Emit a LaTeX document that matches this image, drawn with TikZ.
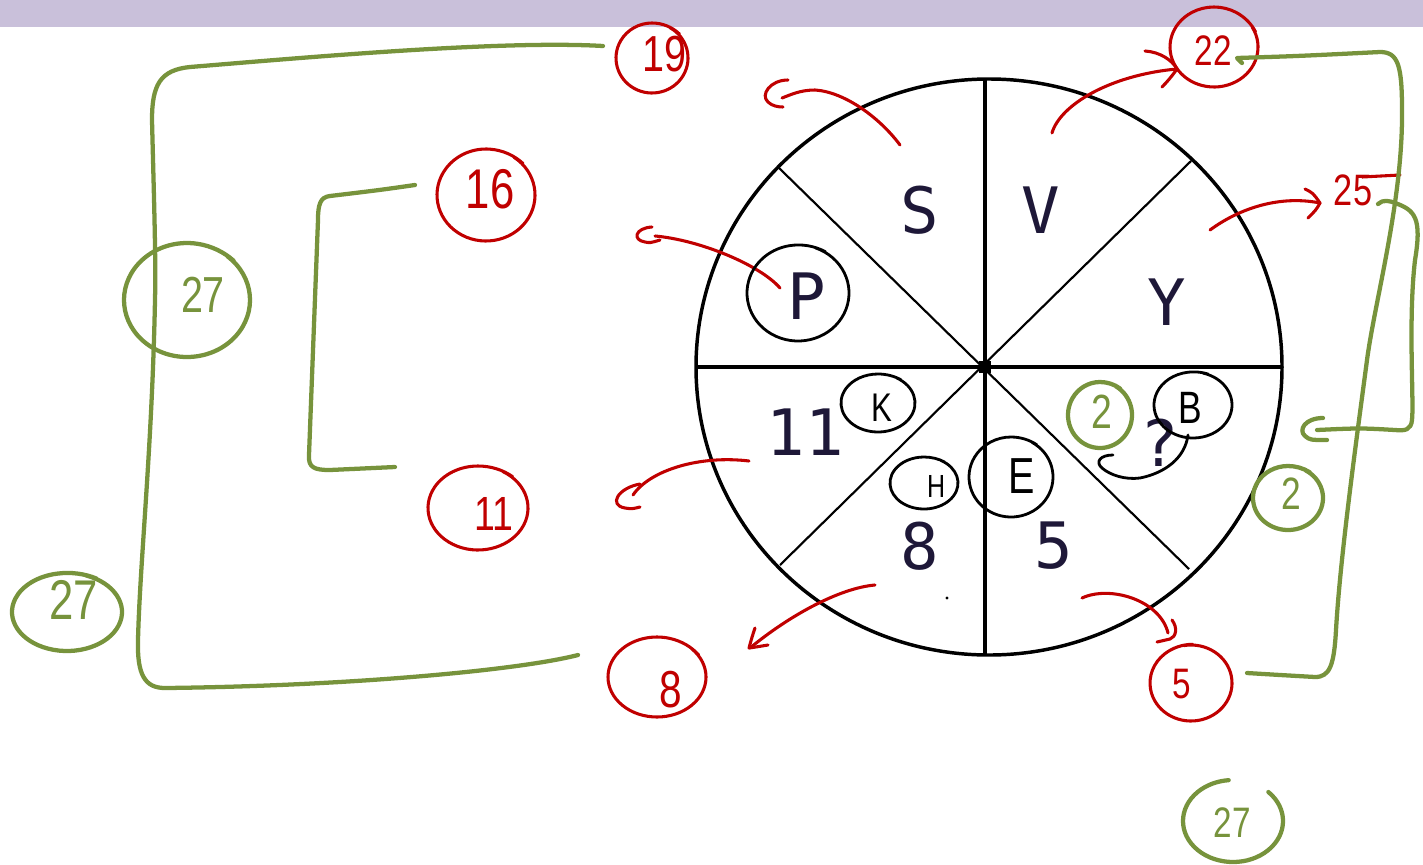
\documentclass[tikz,border=0pt]{standalone}
\usepackage{fontspec}
\setmainfont{Liberation Sans}
\newfontfamily\wheelfont{DejaVu Sans Mono}

\definecolor{barpurple}{HTML}{C9C0DA}
\definecolor{penred}{HTML}{C00000}
\definecolor{pengreen}{HTML}{77933C}
\definecolor{letterink}{HTML}{1E1838}

\tikzset{every picture/.style={line width=0.75pt}}
\tikzset{
	redpen/.style={draw=penred, line width=2.3pt, line cap=round, line join=round},
	greenpen/.style={draw=pengreen, line width=3.2pt, line cap=round, line join=round},
	blackpen/.style={draw=black, line width=2.1pt, line cap=round, line join=round},
	wheelletter/.style={font=\wheelfont\fontsize{48}{50}\selectfont, text=letterink, inner sep=0.75pt},
	redlabel/.style={text=penred, inner sep=0.75pt, xscale=0.78},
	greenlabel/.style={text=pengreen, inner sep=0.75pt, xscale=0.78},
	blacklabel/.style={text=black, inner sep=0.75pt, xscale=0.78}
}

\begin{document}
\begin{tikzpicture}[x=0.75pt,y=0.75pt,yscale=-1,xscale=1]
	\useasboundingbox (0,0) rectangle (1423,864);
	
	%Top bar
	\fill [barpurple] (0,0) rectangle (1423,27);
	
	%Wheel
	\draw [line width=2.6pt] (989,367) ellipse [x radius=293, y radius=288];
	\draw [line width=3.6pt] (985,78) -- (985,656);
	\draw [line width=3pt] (695,367) -- (1283,367);
	\draw [line width=1.6pt] (778,167) -- (1189,569);
	\draw [line width=1.6pt] (1191,161) -- (780,565);
	\fill (979,361) rectangle (991,373);
	\fill (947,598) circle (1.6);
	
	% Wheel letters
	\node [wheelletter] (lS) at (920,210) {S};
	\node [wheelletter] (lV) at (1041,210) {V};
	\node [wheelletter] (lP) at (807,296) {P};
	\node [wheelletter] (lY) at (1167,302) {Y};
	\node [wheelletter] (l11) at (805,432) {11};
	\node [wheelletter] (lQ) at (1160,443) {?};
	\node [wheelletter] (l8) at (920,546) {8};
	\node [wheelletter] (l5) at (1054,546) {5};
	
	%Red arrows
	\draw [redpen] (900,145) .. controls (880,118) and (845,92) .. (815,90) .. controls (800,90) and (790,95) .. (782,98) ;
	\draw [redpen] (788,80) .. controls (770,80) and (760,95) .. (768,102) .. controls (772,106) and (778,107) .. (783,107) ;
	\draw [redpen] (1052,133) .. controls (1060,105) and (1110,75) .. (1177,69) ;
	\draw [redpen] (1145,51) .. controls (1160,52) and (1172,60) .. (1177,69) .. controls (1172,76) and (1167,82) .. (1162,87) ;
	\draw [redpen] (1210,230) .. controls (1240,208) and (1280,195) .. (1320,203) ;
	\draw [redpen] (1305,189) .. controls (1313,193) .. (1320,203) .. controls (1316,210) .. (1308,218) ;
	\draw [redpen] (780,288) .. controls (760,265) and (700,240) .. (655,236) ;
	\draw [redpen] (652,227) .. controls (635,228) and (632,240) .. (645,242) .. controls (650,243) .. (660,240) ;
	\draw [redpen] (749,461) .. controls (700,455) and (650,470) .. (633,495) ;
	\draw [redpen] (640,484) .. controls (618,488) and (608,505) .. (625,508) .. controls (632,509) .. (640,507) ;
	\draw [redpen] (875,585) .. controls (840,588) and (790,615) .. (750,648) ;
	\draw [redpen] (755,628) .. controls (752,637) .. (749,648) .. controls (756,647) .. (768,645) ;
	\draw [redpen] (1082,598) .. controls (1110,585) and (1160,600) .. (1168,633) ;
	\draw [redpen] (1172,620) .. controls (1178,628) and (1176,637) .. (1170,639) -- (1157,642) ;
	
	%Red circled numbers
	\draw [redpen] (652,58) ++(-60:36 and 35) arc [start angle=-60, delta angle=330, x radius=36, y radius=35] arc [start angle=270, delta angle=45, x radius=39, y radius=38] ;
	\node [redlabel, font=\fontsize{38}{40}\selectfont] (n19) at (664,54) {19};
	\draw [redpen] (486,195) ++(-55:49 and 46) arc [start angle=-55, delta angle=330, x radius=49, y radius=46] arc [start angle=275, delta angle=40, x radius=53, y radius=50] ;
	\node [redlabel, font=\fontsize{42}{44}\selectfont] (n16) at (490,189) {16};
	\draw [redpen] (478,508) ++(-60:50 and 42) arc [start angle=-60, delta angle=330, x radius=50, y radius=42] arc [start angle=270, delta angle=40, x radius=54, y radius=46] ;
	\node [redlabel, font=\fontsize{36}{38}\selectfont] (n11) at (494,514) {11};
	\draw [redpen] (657,677) ++(-45:49 and 40) arc [start angle=-45, delta angle=330, x radius=49, y radius=40] arc [start angle=285, delta angle=40, x radius=52, y radius=43] ;
	\node [redlabel, font=\fontsize{39}{41}\selectfont] (n8) at (671,690) {8};
	\draw [redpen] (1214,47) ++(-30:44 and 40) arc [start angle=-30, delta angle=330, x radius=44, y radius=40] arc [start angle=300, delta angle=35, x radius=48, y radius=44] ;
	\node [redlabel, font=\fontsize{32}{34}\selectfont] (n22) at (1213,51) {22};
	\node [redlabel, font=\fontsize{33}{35}\selectfont] (n25) at (1353,190) {25};
	\draw [redpen] (1362,177) -- (1400,175) ;
	\draw [redpen] (1191,683) ++(-100:41 and 38) arc [start angle=-100, delta angle=330, x radius=41, y radius=38] arc [start angle=230, delta angle=40, x radius=44, y radius=41] ;
	\node [redlabel, font=\fontsize{32}{34}\selectfont] (n5) at (1182,684) {5};
	
	%Black circled letters
	\draw [blackpen] (798,293) ++(-70:51 and 48) arc [start angle=-70, delta angle=330, x radius=51, y radius=48] arc [start angle=260, delta angle=40, x radius=54, y radius=51] ;
	\draw [blackpen] (878,403) ++(-60:37 and 29) arc [start angle=-60, delta angle=330, x radius=37, y radius=29] arc [start angle=270, delta angle=35, x radius=40, y radius=32] ;
	\node [blacklabel, font=\fontsize{30}{32}\selectfont] (tK) at (882,408) {K};
	\draw [blackpen] (924,483) ++(-60:34 and 26) arc [start angle=-60, delta angle=330, x radius=34, y radius=26] arc [start angle=270, delta angle=35, x radius=36, y radius=28] ;
	\node [blacklabel, font=\fontsize{24}{26}\selectfont] (tH) at (936,486) {H};
	\draw [blackpen] (1011,477) ++(-60:42 and 40) arc [start angle=-60, delta angle=330, x radius=42, y radius=40] arc [start angle=270, delta angle=35, x radius=45, y radius=43] ;
	\node [blacklabel, font=\fontsize{38}{40}\selectfont] (tE) at (1022,476) {E};
	\draw [blackpen] (1193,405) ++(-75:39 and 33) arc [start angle=-75, delta angle=330, x radius=39, y radius=33] arc [start angle=255, delta angle=35, x radius=42, y radius=36] ;
	\node [blacklabel, font=\fontsize{34}{36}\selectfont] (tB) at (1190,408) {B};
	\draw [blackpen] (1113,455) .. controls (1100,455) and (1095,462) .. (1102,468) .. controls (1110,475) and (1125,480) .. (1140,478) .. controls (1165,473) and (1185,458) .. (1188,435) ;
	
	%Green brackets
	\draw [greenpen] (603,46) .. controls (500,40) and (300,58) .. (190,67) .. controls (160,70) and (152,85) .. (152,120) .. controls (154,200) and (156,260) .. (155,300) .. controls (152,450) and (140,560) .. (138,640) .. controls (137,675) and (145,688) .. (165,688) .. controls (350,686) and (520,670) .. (578,655) ;
	\draw [greenpen] (415,185) .. controls (380,190) .. (330,196) .. controls (320,197) and (318,205) .. (318,220) -- (309,455) .. controls (308,468) and (315,470) .. (330,470) -- (395,467) ;
	\draw [greenpen] (1242,63) -- (1237,58) .. controls (1300,56) .. (1380,52) .. controls (1398,52) and (1402,65) .. (1402,110) .. controls (1403,200) and (1375,300) .. (1367,360) .. controls (1355,450) and (1340,560) .. (1336,630) .. controls (1334,665) and (1330,677) .. (1315,677) .. controls (1280,675) .. (1247,673) ;
	\draw [greenpen] (1378,204) .. controls (1383,199) and (1390,201) .. (1395,203) .. controls (1415,210) and (1422,218) .. (1415,260) .. controls (1408,320) and (1414,400) .. (1412,420) .. controls (1411,430) and (1405,431) .. (1395,430) .. controls (1360,428) .. (1317,430) ;
	\draw [greenpen] (1323,418) .. controls (1305,418) and (1298,430) .. (1305,436) .. controls (1310,440) .. (1327,440) ;
	
	%Green circled numbers
	\draw [greenpen] (187,300) ++(-50:63 and 57) arc [start angle=-50, delta angle=330, x radius=63, y radius=57] arc [start angle=280, delta angle=35, x radius=67, y radius=61] ;
	\node [greenlabel, font=\fontsize{38}{40}\selectfont] (g27a) at (203,295) {27};
	\draw [greenpen] (67,612) ++(-70:55 and 39) arc [start angle=-70, delta angle=330, x radius=55, y radius=39] arc [start angle=260, delta angle=40, x radius=58, y radius=42] ;
	\node [greenlabel, font=\fontsize{42}{44}\selectfont] (g27b) at (74,600) {27};
	\draw [greenpen] (1233,821) ++(-45:50 and 41) arc [start angle=-45, delta angle=310, x radius=50, y radius=41] ;
	\node [greenlabel, font=\fontsize{32}{34}\selectfont] (g27c) at (1232,823) {27};
	\draw [greenpen] (1100,415) ++(-60:32 and 33) arc [start angle=-60, delta angle=330, x radius=32, y radius=33] arc [start angle=270, delta angle=35, x radius=35, y radius=36] ;
	\node [greenlabel, font=\fontsize{36}{38}\selectfont] (g2a) at (1102,412) {2};
	\draw [greenpen] (1288,498) ++(-60:35 and 32) arc [start angle=-60, delta angle=330, x radius=35, y radius=32] arc [start angle=270, delta angle=35, x radius=38, y radius=35] ;
	\node [greenlabel, font=\fontsize{34}{36}\selectfont] (g2b) at (1291,494) {2};
	
\end{tikzpicture}
\end{document}
